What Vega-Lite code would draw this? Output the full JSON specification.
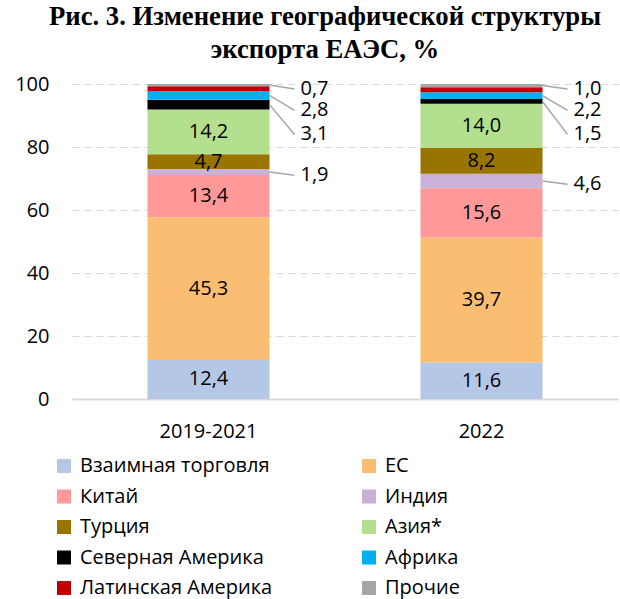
{
  "$schema": "https://vega.github.io/schema/vega-lite/v6.json",
  "width": 546,
  "height": 315,
  "autosize": {"type": "none"},
  "padding": {"left": 72, "top": 84, "right": 2, "bottom": 200},
  "background": "white",
  "config": {
    "locale": {"number": {"decimal": ",", "thousands": " ", "grouping": [3], "currency": ["", ""]}},
    "font": "Open Sans",
    "view": {"stroke": null}
  },
  "title": {
    "text": ["Рис. 3. Изменение географической структуры", "экспорта ЕАЭС, %"],
    "font": "Liberation Serif",
    "fontSize": 26.7,
    "fontWeight": "bold",
    "lineHeight": 33,
    "anchor": "middle",
    "dx": -20,
    "offset": 10,
    "color": "black"
  },
  "data": {
    "values": [
      {"period": "2019-2021", "region": "Взаимная торговля", "value": 12.4},
      {"period": "2019-2021", "region": "ЕС", "value": 45.3},
      {"period": "2019-2021", "region": "Китай", "value": 13.4},
      {"period": "2019-2021", "region": "Индия", "value": 1.9},
      {"period": "2019-2021", "region": "Турция", "value": 4.7},
      {"period": "2019-2021", "region": "Азия*", "value": 14.2},
      {"period": "2019-2021", "region": "Северная Америка", "value": 3.1},
      {"period": "2019-2021", "region": "Африка", "value": 2.8},
      {"period": "2019-2021", "region": "Латинская Америка", "value": 1.5},
      {"period": "2019-2021", "region": "Прочие", "value": 0.7},
      {"period": "2022", "region": "Взаимная торговля", "value": 11.6},
      {"period": "2022", "region": "ЕС", "value": 39.7},
      {"period": "2022", "region": "Китай", "value": 15.6},
      {"period": "2022", "region": "Индия", "value": 4.6},
      {"period": "2022", "region": "Турция", "value": 8.2},
      {"period": "2022", "region": "Азия*", "value": 14.0},
      {"period": "2022", "region": "Северная Америка", "value": 1.5},
      {"period": "2022", "region": "Африка", "value": 2.2},
      {"period": "2022", "region": "Латинская Америка", "value": 1.6},
      {"period": "2022", "region": "Прочие", "value": 1.0}
    ]
  },
  "transform": [
    {"calculate": "indexof(['Взаимная торговля','ЕС','Китай','Индия','Турция','Азия*','Северная Америка','Африка','Латинская Америка','Прочие'], datum.region)", "as": "k"},
    {"stack": "value", "groupby": ["period"], "sort": [{"field": "k", "order": "ascending"}], "as": ["y0", "y1"]},
    {"calculate": "(datum.y0 + datum.y1) / 2", "as": "mid"},
    {"calculate": "datum.region === 'Прочие' ? 98.4 : datum.region === 'Африка' ? 91.6 : datum.region === 'Северная Америка' ? 84 : datum.mid - 1", "as": "ly"}
  ],
  "layer": [
    {
      "mark": {"type": "bar"},
      "encoding": {
        "x": {
          "field": "period",
          "type": "nominal",
          "scale": {"paddingInner": 0.553, "paddingOuter": 0.2765},
          "axis": {
            "title": null,
            "labelAngle": 0,
            "domainColor": "#D9D9D9",
            "domainWidth": 2,
            "ticks": false,
            "labelFontSize": 20,
            "labelPadding": 22,
            "labelColor": "black"
          }
        },
        "y": {
          "field": "y1",
          "type": "quantitative",
          "scale": {"domain": [0, 100], "nice": false},
          "axis": {
            "title": null,
            "values": [0, 20, 40, 60, 80, 100],
            "domain": false,
            "ticks": false,
            "labelFontSize": 20,
            "labelPadding": 23,
            "labelColor": "black",
            "gridColor": "#D9D9D9",
            "gridDash": [7, 5]
          }
        },
        "y2": {"field": "y0"},
        "color": {
          "field": "region",
          "type": "nominal",
          "scale": {
            "domain": ["Взаимная торговля", "Китай", "Турция", "Северная Америка", "Латинская Америка", "ЕС", "Индия", "Азия*", "Африка", "Прочие"],
            "range": ["#B4C7E7", "#FF9999", "#9A7400", "#000000", "#C00000", "#FBBD72", "#CBB1D8", "#B4DF8F", "#00B0F0", "#A6A6A6"]
          },
          "legend": {
            "orient": "none",
            "legendX": -18,
            "legendY": 372,
            "columns": 2,
            "title": null,
            "symbolType": "square",
            "symbolSize": 196,
            "symbolStrokeWidth": 0,
            "labelFontSize": 20,
            "labelOffset": 6,
            "rowPadding": 10.5,
            "columnPadding": 86,
            "labelLimit": 300,
            "labelColor": "black",
            "padding": 0
          }
        }
      }
    },
    {
      "transform": [{"filter": "indexof(['Взаимная торговля','ЕС','Китай','Турция','Азия*'], datum.region) >= 0"}],
      "mark": {"type": "text", "fontSize": 20, "color": "black", "baseline": "middle", "align": "center"},
      "encoding": {
        "x": {"field": "period", "type": "nominal"},
        "y": {"field": "mid", "type": "quantitative"},
        "text": {"field": "value", "type": "quantitative", "format": ".1f"}
      }
    },
    {
      "transform": [{"filter": "indexof(['Индия','Северная Америка','Африка','Прочие'], datum.region) >= 0"}],
      "mark": {"type": "rule", "color": "#A6A6A6", "strokeWidth": 1.5, "xOffset": 61, "x2Offset": 86},
      "encoding": {
        "x": {"field": "period", "type": "nominal"},
        "x2": {"field": "period"},
        "y": {"field": "mid", "type": "quantitative"},
        "y2": {"field": "ly"}
      }
    },
    {
      "transform": [{"filter": "indexof(['Индия','Северная Америка','Африка','Прочие'], datum.region) >= 0"}],
      "mark": {"type": "text", "fontSize": 20, "color": "black", "baseline": "middle", "align": "center", "xOffset": 106},
      "encoding": {
        "x": {"field": "period", "type": "nominal"},
        "y": {"field": "ly", "type": "quantitative"},
        "text": {"field": "value", "type": "quantitative", "format": ".1f"}
      }
    }
  ]
}
